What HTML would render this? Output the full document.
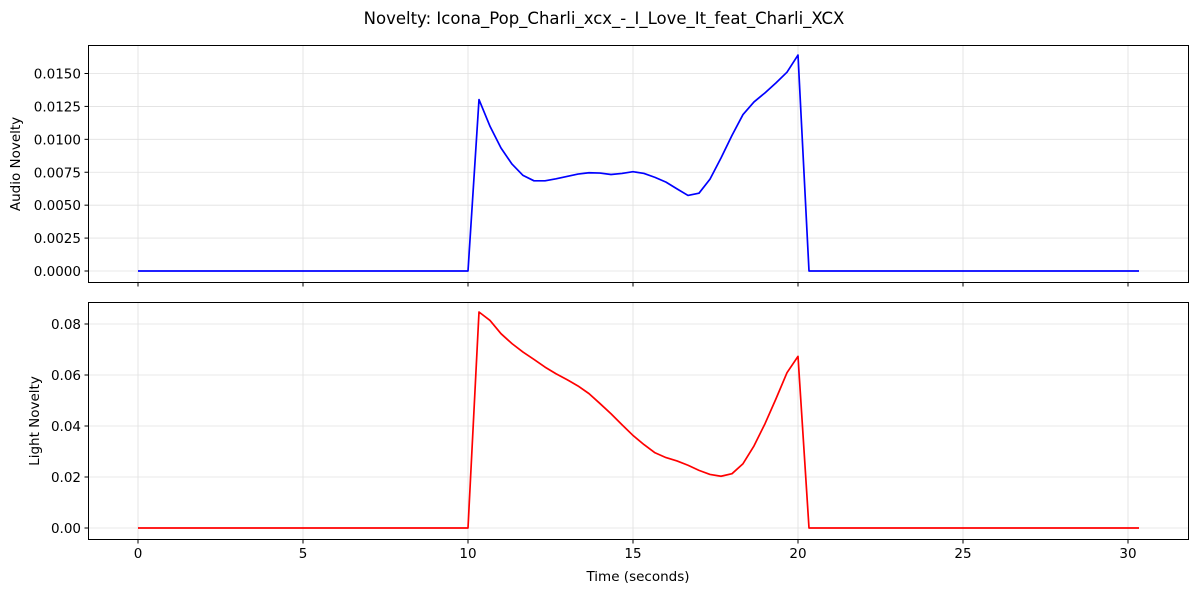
<!DOCTYPE html>
<html><head><meta charset="utf-8">
<style>
body{margin:0;background:#fff;}
svg text{font-family:"DejaVu Sans","Liberation Sans",sans-serif;fill:#000;}
</style></head>
<body>
<svg id="chart" width="1198" height="592" xmlns="http://www.w3.org/2000/svg">
<text x="604" y="24" font-size="16.5" text-anchor="middle">Novelty: Icona_Pop_Charli_xcx_-_I_Love_It_feat_Charli_XCX</text>
<g id="top"></g>
<g id="bot"></g>
<text x="638" y="581" font-size="13.5" text-anchor="middle">Time (seconds)</text>
</svg>
<script>
const timeStep = 1/3;
const audioNovelty = [0,0,0,0,0,0,0,0,0,0,0,0,0,0,0,0,0,0,0,0,0,0,0,0,0,0,0,0,0,0,0,
0.01302,0.01099,0.00934,0.00812,0.00726,0.00685,0.00685,0.00700,0.00718,0.00736,0.00746,0.00744,0.00733,0.00741,0.00754,0.00741,0.00711,0.00675,0.00624,0.00574,0.00591,0.00698,0.00858,0.01030,0.01188,0.01284,0.01353,0.01429,0.01510,0.01640,
0,0,0,0,0,0,0,0,0,0,0,0,0,0,0,0,0,0,0,0,0,0,0,0,0,0,0,0,0,0,0];
const lightNovelty = [0,0,0,0,0,0,0,0,0,0,0,0,0,0,0,0,0,0,0,0,0,0,0,0,0,0,0,0,0,0,0,
0.0847,0.0814,0.0762,0.0723,0.0690,0.0661,0.0631,0.0605,0.0582,0.0557,0.0527,0.0488,0.0448,0.0405,0.0363,0.0327,0.0295,0.0276,0.0263,0.0246,0.0226,0.0210,0.0203,0.0213,0.0252,0.0322,0.0409,0.0507,0.0609,0.0673,
0,0,0,0,0,0,0,0,0,0,0,0,0,0,0,0,0,0,0,0,0,0,0,0,0,0,0,0,0,0,0];
const xTicks = [0,5,10,15,20,25,30];
const topYTicks = [0,0.0025,0.005,0.0075,0.01,0.0125,0.015];
const topYLabels = ["0.0000","0.0025","0.0050","0.0075","0.0100","0.0125","0.0150"];
const botYTicks = [0,0.02,0.04,0.06,0.08];
const botYLabels = ["0.00","0.02","0.04","0.06","0.08"];

const NS="http://www.w3.org/2000/svg";
const L=88,R=1189;
const xs = t => 138 + t*33;
function mk(parent,tag,attrs){const e=document.createElementNS(NS,tag);for(const k in attrs)e.setAttribute(k,attrs[k]);parent.appendChild(e);return e;}

function panel(g,top,bottom,y0px,yScalePer,ticks,labels,data,color,ylabel,showX,prefix){
  const ys=v=>y0px - v*yScalePer;
  xTicks.forEach(t=>{const l=mk(g,'line',{x1:xs(t),x2:xs(t),y1:top,y2:bottom,stroke:'#e0e0e0','stroke-width':0.8});
    
    });
  ticks.forEach((v,i)=>{const y=ys(v);
    const l=mk(g,'line',{x1:L,x2:R,y1:y,y2:y,stroke:'#e0e0e0','stroke-width':0.8});
    
    
    const tk=mk(g,'line',{x1:L-3.5,x2:L,y1:y,y2:y,stroke:'#000','stroke-width':1});
    
    
    const tx=mk(g,'text',{x:L-7,y:y+5,'font-size':13.5,'text-anchor':'end'});tx.textContent=labels[i];
    
    });
  xTicks.forEach(t=>{const tk=mk(g,'line',{x1:xs(t),x2:xs(t),y1:bottom,y2:bottom+3.5,stroke:'#000','stroke-width':1});
    
    
    if(showX){const tx=mk(g,'text',{x:xs(t),y:bottom+18,'font-size':13.5,'text-anchor':'middle'});tx.textContent=t;
      
      }});
  const pts=data.map((v,i)=>xs(i*timeStep).toFixed(2)+','+ys(v).toFixed(2)).join(' ');
  const pl=mk(g,'polyline',{points:pts,fill:'none',stroke:color,'stroke-width':1.7,'stroke-linejoin':'round'});
  
  
  const fr=mk(g,'rect',{x:L+0.5,y:top+0.5,width:R-L-1,height:bottom-top-1,fill:'none',stroke:'#000','stroke-width':1});
  
  
  const cy=(top+bottom)/2;
  const yl=mk(g,'text',{x:0,y:0,'font-size':13.5,'text-anchor':'middle',transform:`translate(${prefix==='audio'?20:39},${cy}) rotate(-90)`});
  yl.textContent=ylabel;
  
  
}
panel(document.getElementById('top'),45,283,271,(271-73.5)/0.015,topYTicks,topYLabels,audioNovelty,'#0000ff','Audio Novelty',false,'audio');
panel(document.getElementById('bot'),302,540,528,(528-324)/0.08,botYTicks,botYLabels,lightNovelty,'#ff0000','Light Novelty',true,'light');
</script>
</body></html>
